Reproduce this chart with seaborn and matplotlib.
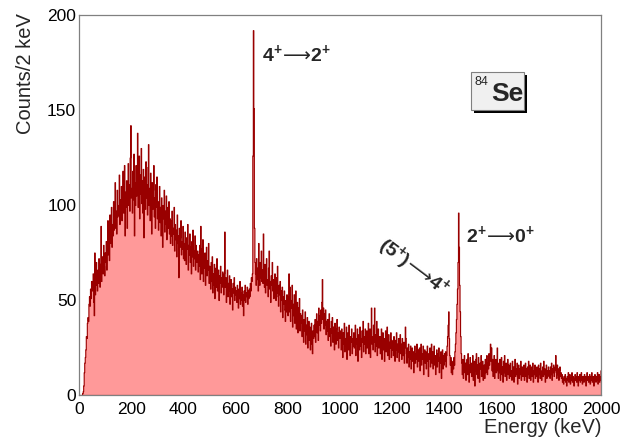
import numpy as np
import pandas as pd
import seaborn as sns
import matplotlib.pyplot as plt
from matplotlib.patches import Rectangle
from matplotlib.ticker import MultipleLocator, NullLocator

# Spectrum, counts per 2 keV bin (one list = 100 keV)
c0000 = [0, 0, 0, 0, 0, 0, 1, 2, 5, 12, 17, 20, 24, 31, 30, 38, 41, 39, 48, 52, 47, 56, 51, 60, 55,
         58, 64, 49, 42, 75, 53, 58, 70, 62, 55, 66, 59, 72, 61, 57, 69, 89, 60, 66, 73, 64, 79, 68, 63, 75]
c0100 = [70, 81, 66, 77, 92, 74, 83, 71, 95, 80, 86, 99, 78, 90, 84, 102, 87, 93, 112, 88, 97, 85, 108, 94, 100,
         95, 116, 90, 103, 98, 110, 92, 104, 118, 96, 101, 121, 84, 107, 99, 113, 88, 105, 122, 100, 111, 97, 125, 142, 104]
c0200 = [109, 96, 118, 103, 127, 84, 112, 100, 121, 105, 114, 138, 99, 110, 126, 93, 116, 106, 130, 101, 113, 96, 119, 83, 102,
         115, 98, 123, 104, 111, 95, 120, 132, 100, 109, 92, 117, 103, 85, 112, 98, 108, 121, 94, 104, 88, 111, 99, 115, 93]
c0300 = [102, 87, 95, 110, 91, 99, 84, 104, 96, 78, 100, 93, 108, 86, 97, 90, 105, 82, 94, 99, 88, 102, 85, 93, 80,
         92, 84, 97, 79, 88, 85, 99, 76, 90, 82, 87, 73, 95, 80, 84, 62, 88, 78, 83, 92, 74, 81, 77, 89, 72]
c0400 = [80, 71, 86, 75, 69, 83, 77, 90, 66, 79, 74, 85, 70, 78, 64, 81, 73, 87, 68, 76, 72, 84, 66, 79, 75,
         70, 76, 65, 74, 68, 79, 61, 89, 77, 64, 70, 82, 60, 73, 67, 75, 58, 69, 78, 63, 71, 66, 80, 59, 68]
c0500 = [65, 56, 70, 60, 73, 54, 64, 58, 69, 51, 62, 67, 57, 72, 55, 61, 66, 50, 63, 59, 68, 54, 62, 57, 65,
         60, 53, 64, 86, 57, 62, 49, 58, 66, 52, 59, 55, 63, 48, 57, 61, 52, 56, 45, 59, 54, 62, 50, 57, 53]
c0600 = [55, 49, 58, 52, 46, 56, 51, 60, 48, 54, 50, 57, 47, 53, 42, 55, 50, 58, 49, 54, 52, 57, 48, 55, 51,
         56, 52, 59, 55, 62, 60, 64, 126, 192, 151, 88, 70, 64, 58, 72, 61, 67, 55, 80, 63, 58, 70, 62, 76, 60]
c0700 = [66, 59, 85, 62, 57, 69, 54, 64, 72, 58, 61, 52, 67, 76, 56, 60, 49, 63, 58, 70, 55, 61, 51, 59, 64,
         57, 50, 62, 54, 68, 52, 47, 58, 53, 60, 44, 55, 50, 57, 41, 52, 48, 55, 45, 39, 50, 44, 53, 47, 42]
c0800 = [52, 64, 44, 57, 39, 50, 46, 58, 36, 48, 42, 53, 38, 47, 55, 35, 44, 49, 33, 46, 41, 51, 34, 43, 38,
         42, 31, 45, 36, 28, 40, 34, 44, 27, 37, 32, 41, 25, 35, 39, 29, 36, 24, 33, 38, 27, 22, 34, 30, 37]
c0900 = [31, 40, 28, 36, 43, 33, 39, 29, 46, 37, 42, 34, 45, 38, 49, 61, 40, 46, 35, 43, 37, 45, 32, 39, 34,
         40, 29, 37, 43, 31, 35, 26, 39, 33, 41, 28, 36, 30, 24, 38, 32, 27, 35, 40, 29, 33, 25, 36, 30, 34]
c1000 = [31, 24, 35, 28, 20, 33, 27, 38, 23, 30, 26, 36, 19, 29, 33, 24, 37, 27, 21, 31, 28, 35, 22, 30, 26,
         33, 25, 29, 37, 21, 30, 27, 35, 18, 28, 32, 24, 36, 26, 30, 20, 34, 28, 39, 23, 31, 27, 35, 22, 29]
c1100 = [34, 25, 31, 38, 22, 29, 35, 20, 33, 46, 27, 31, 24, 37, 28, 46, 23, 32, 26, 39, 21, 30, 35, 25, 29,
         31, 22, 28, 35, 19, 27, 33, 24, 30, 18, 26, 34, 23, 29, 36, 21, 27, 32, 19, 28, 25, 33, 20, 29, 24]
c1200 = [28, 21, 31, 25, 18, 29, 24, 33, 20, 27, 23, 30, 18, 26, 32, 22, 27, 19, 30, 24, 21, 28, 17, 25, 36,
         30, 22, 17, 25, 20, 27, 15, 23, 19, 26, 14, 21, 25, 18, 23, 12, 20, 26, 17, 22, 19, 27, 15, 21, 24]
c1300 = [18, 25, 13, 21, 27, 16, 22, 19, 26, 11, 20, 24, 17, 23, 14, 21, 26, 18, 10, 22, 19, 25, 15, 21, 27,
         17, 23, 14, 20, 26, 16, 21, 11, 19, 24, 15, 22, 18, 25, 12, 20, 17, 23, 9, 19, 24, 14, 21, 16, 22]
c1400 = [18, 23, 15, 21, 26, 31, 37, 44, 30, 21, 16, 20, 12, 18, 11, 17, 14, 20, 16, 23, 27, 33, 40, 48, 56,
         70, 96, 78, 58, 44, 31, 22, 17, 11, 19, 9, 16, 21, 12, 17, 8, 15, 19, 11, 22, 13, 7, 16, 20, 12]
c1500 = [17, 10, 15, 21, 8, 14, 18, 5, 13, 19, 22, 11, 16, 9, 20, 13, 7, 17, 14, 21, 10, 15, 18, 8, 14,
         16, 9, 19, 12, 15, 21, 11, 17, 14, 22, 16, 20, 27, 18, 25, 13, 19, 10, 16, 21, 9, 15, 19, 12, 17]
c1600 = [25, 13, 9, 17, 12, 19, 8, 14, 20, 11, 15, 7, 18, 12, 21, 10, 14, 17, 8, 13, 19, 11, 16, 9, 14,
         17, 10, 13, 8, 18, 12, 15, 7, 13, 19, 10, 14, 11, 17, 6, 13, 16, 9, 14, 11, 18, 8, 12, 15, 10]
c1700 = [13, 16, 8, 12, 17, 10, 14, 7, 15, 11, 18, 9, 13, 16, 8, 12, 15, 10, 17, 7, 13, 11, 16, 9, 14,
         10, 15, 12, 7, 16, 11, 14, 9, 17, 12, 8, 13, 15, 10, 18, 11, 14, 7, 12, 16, 9, 13, 11, 15, 10]
c1800 = [13, 9, 15, 11, 17, 8, 14, 12, 16, 10, 13, 15, 21, 12, 9, 16, 11, 14, 8, 13, 15, 10, 12, 9, 11,
         7, 9, 6, 10, 8, 11, 7, 9, 5, 10, 8, 12, 7, 9, 11, 6, 9, 8, 12, 7, 10, 8, 5, 9, 11]
c1900 = [8, 10, 7, 12, 9, 5, 10, 8, 11, 7, 9, 12, 8, 6, 10, 9, 7, 11, 8, 10, 5, 9, 12, 8, 10,
         7, 9, 11, 6, 10, 8, 12, 7, 9, 10, 5, 8, 11, 9, 7, 10, 8, 12, 6, 9, 11, 7, 10, 8, 13]

counts = (c0000 + c0100 + c0200 + c0300 + c0400 + c0500 + c0600 + c0700 + c0800 + c0900 +
          c1000 + c1100 + c1200 + c1300 + c1400 + c1500 + c1600 + c1700 + c1800 + c1900)

bin_width = 2
e_min, e_max = 0, 2000
df = pd.DataFrame({'energy': np.arange(e_min, e_max, bin_width) + bin_width / 2,
                   'counts': counts})

sns.set_style("white")
plt.rcParams['font.family'] = ['Liberation Sans', 'DejaVu Sans']
# bold digits from Liberation, thin long arrow from DejaVu
plt.rcParams['mathtext.fontset'] = 'custom'
plt.rcParams['mathtext.rm'] = 'DejaVu Sans'
plt.rcParams['mathtext.bf'] = 'Liberation Sans:bold'

fig = plt.figure(figsize=(6.26, 4.43), dpi=100)
ax = fig.add_axes([79 / 626, 48 / 443, 522 / 626, 380 / 443])

sns.histplot(data=df, x='energy', weights='counts', binwidth=bin_width, binrange=(e_min, e_max),
             element='step', fill=True, color='#ff9999', edgecolor='#990000',
             linewidth=0.8, alpha=1, ax=ax)

ax.set_xlim(e_min, e_max)
ax.set_ylim(0, 200)
ax.set_xlabel('')
ax.set_ylabel('')

ax.xaxis.set_major_locator(MultipleLocator(200))
ax.xaxis.set_minor_locator(MultipleLocator(50))
ax.yaxis.set_major_locator(MultipleLocator(50))
ax.yaxis.set_minor_locator(NullLocator())
ax.tick_params(axis='x', which='major', direction='in', length=8.5, width=0.8,
               color='#555555', labelsize=12.5, pad=5, labelcolor='black')
ax.tick_params(axis='x', which='minor', direction='in', length=4.3, width=0.8, color='#555555')
ax.tick_params(axis='y', which='major', direction='in', length=11.5, width=0.8,
               color='#555555', labelsize=12.5, pad=2, labelcolor='black')
for s in ax.spines.values():
    s.set_color('#808080')
    s.set_linewidth(0.9)

fig.text(26 / 626, 1 - 13 / 443, 'Counts/2 keV', rotation=90, ha='center', va='top', fontsize=14.5)
fig.text(602 / 626, 1 - 433 / 443, 'Energy (keV)', ha='right', va='baseline', fontsize=14.5)

# transition labels
ax.text(701, 176, r'$\mathbf{4^{+}}\!\mathrm{\longrightarrow}\!\mathbf{2^{+}}$',
        ha='left', va='baseline', fontsize=14)
ax.text(1483, 80.5, r'$\mathbf{2^{+}}\!\mathrm{\longrightarrow}\!\mathbf{0^{+}}$',
        ha='left', va='baseline', fontsize=14)
ax.text(1281, 67, r'$\mathbf{(5^{+})}\!\mathrm{\longrightarrow}\!\mathbf{4^{+}}$',
        ha='center', va='center', fontsize=14, rotation=-37)

# 84Se box with shadow
ax.add_patch(Rectangle((1513, 148.4), 203, 20, facecolor='black', edgecolor='none',
                       clip_on=False, zorder=5))
ax.add_patch(Rectangle((1502, 150), 203, 20, facecolor='#f0f0f0', edgecolor='#808080',
                       linewidth=0.8, clip_on=False, zorder=6))
ax.text(1516, 164.5, '84', ha='left', va='center', fontsize=9, zorder=7)
ax.text(1642, 158.5, 'Se', ha='center', va='center', fontsize=19, fontweight='bold', zorder=7)

fig.savefig('out.png', dpi=100)
